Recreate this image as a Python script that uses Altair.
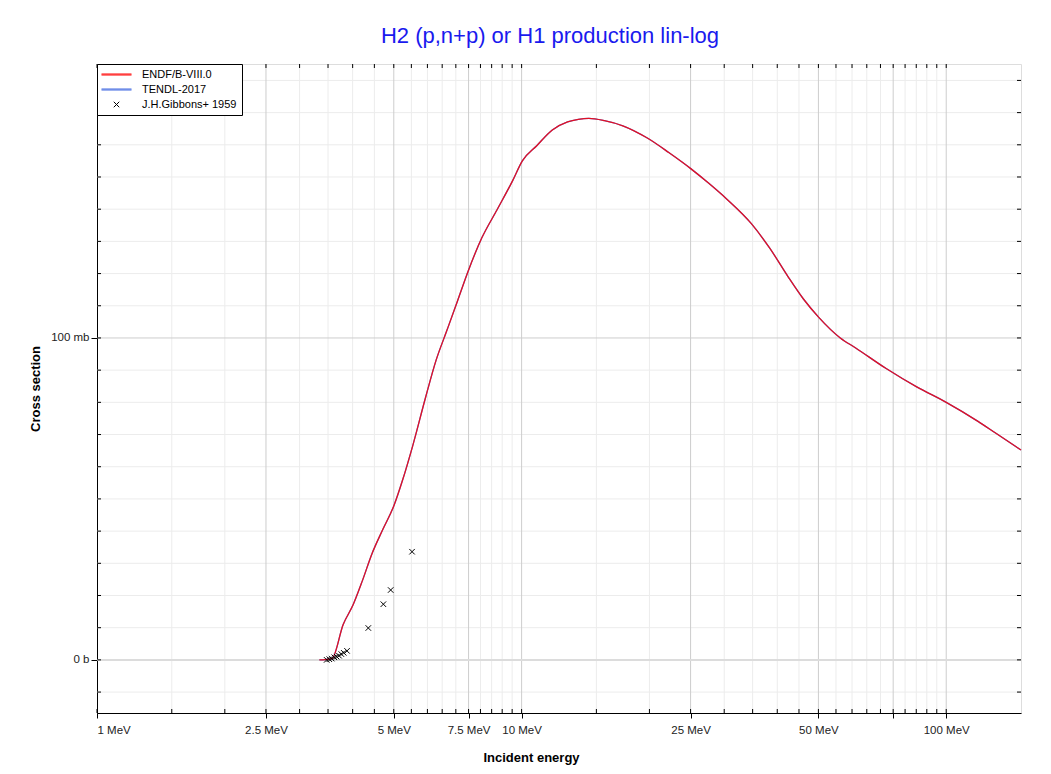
import altair as alt
import pandas as pd

TITLE = "H2 (p,n+p) or H1 production lin-log"
series_names = ["ENDF/B-VIII.0", "TENDL-2017", "J.H.Gibbons+ 1959"]
series_colors = ["#ff0000", "#4169e1", "#000000"]

# incident energy (MeV) and cross section (mb)
endf_energy = [3.34, 3.45, 3.58, 3.8, 4.01, 4.22, 4.44, 4.71, 5.01, 5.24, 5.54, 5.94,
               6.29, 6.65, 7.06, 7.49, 8.06, 8.76, 9.52, 10.04, 10.87, 11.81, 12.83,
               13.6, 14.4, 15.67, 17.31, 19.77, 22.21, 25.02, 27.55, 30.44, 34.76,
               38.4, 42.43, 46.1, 50.1, 56.3, 61.2, 72.2, 85.2, 100, 118.8, 131.2, 150]
endf_xs = [0, 0.1, 0.5, 11, 17.1, 24.7, 32.9, 40.5, 48.1, 55.7, 66.5, 81.5,
           93.1, 101.9, 111.4, 120.9, 131.1, 139.9, 148.8, 155.0, 159.8, 164.6, 167.1,
           167.9, 168.2, 167.5, 165.9, 162.1, 157.6, 152.6, 148.1, 143.1, 135.5,
           127.9, 119.0, 112.1, 106.4, 100.0, 96.9, 90.5, 84.8, 80.0, 74.1, 70.3, 65.2]
tendl_energy = list(endf_energy)
tendl_xs = list(endf_xs)

exp_energy = [3.475, 3.525, 3.571, 3.622, 3.668, 3.715, 3.762, 3.811, 3.88,
              4.355, 4.725, 4.916, 5.52]
exp_xs = [0.0, 0.2, 0.4, 0.8, 1.0, 1.3, 1.8, 2.2, 2.8, 9.9, 17.3, 21.7, 33.6]

x_major = [1, 2.5, 5, 7.5, 10, 25, 50, 75, 100]
x_minor = [1.5, 2, 3, 3.5, 4, 4.5, 5.5, 6, 6.5, 7, 8, 8.5, 9, 9.5,
           15, 20, 30, 35, 40, 45, 55, 60, 65, 70, 80, 85, 90, 95]
y_major = [0, 100]
y_minor = [-10, 10, 20, 30, 40, 50, 60, 70, 80, 90, 110, 120, 130, 140, 150, 160, 170, 180]

W, H = 924, 649
FONT = "Liberation Sans"

xs = alt.Scale(type="log", domain=[1, 150], nice=False)
ys = alt.Scale(domain=[-16.5, 185.1], nice=False, zero=False)

X_AXIS = alt.Axis(values=x_major, grid=False, tickSize=5, tickColor="black",
                  domainColor="black", labelFont=FONT, labelFontSize=11.5,
                  labelColor="#222", labelPadding=6,
                  labelExpr="datum.value == 75 ? '' : datum.value + ' MeV'",
                  titleFont=FONT, titleFontSize=13, titleFontWeight="bold",
                  titleColor="black", titleX=434, titleY=44, titleBaseline="middle")
Y_AXIS = alt.Axis(values=y_major, grid=False, tickSize=6, tickColor="black",
                  domainColor="black", labelFont=FONT, labelFontSize=11.5,
                  labelColor="#222", labelPadding=2,
                  labelExpr="datum.value == 0 ? '0 b' : datum.value + ' mb'",
                  titleFont=FONT, titleFontSize=13, titleFontWeight="bold",
                  titleColor="black", titleX=-62, titleY=H / 2, titleAngle=270,
                  titleAlign="center", titleBaseline="middle")

endf_df = pd.DataFrame({"e": endf_energy, "xs": endf_xs})
tendl_df = pd.DataFrame({"e": tendl_energy, "xs": tendl_xs})
exp_df = pd.DataFrame({"e": exp_energy, "xs": exp_xs, "series": series_names[2]})

xmin_df = pd.DataFrame({"e": x_minor})
xall_df = pd.DataFrame({"e": x_major + x_minor})
ymin_df = pd.DataFrame({"xs": y_minor})
yall_df = pd.DataFrame({"xs": y_major + y_minor})

def xfield():
    return alt.X("e:Q", scale=xs, title="Incident energy", axis=X_AXIS)

def yfield():
    return alt.Y("xs:Q", scale=ys, title="Cross section", axis=Y_AXIS)

vgrid_minor = alt.Chart(xmin_df).mark_rule(color="#ececec", strokeWidth=1).encode(x=xfield())
vgrid_major = alt.Chart(pd.DataFrame({"e": x_major[1:]})).mark_rule(color="#cdcdcd", strokeWidth=1).encode(x=xfield())
hgrid_minor = alt.Chart(ymin_df).mark_rule(color="#ececec", strokeWidth=1).encode(y=yfield())
hgrid_100 = alt.Chart(pd.DataFrame({"xs": [y_major[1]]})).mark_rule(color="#cdcdcd", strokeWidth=1).encode(y=yfield())
hgrid_0 = alt.Chart(pd.DataFrame({"xs": [y_major[0]]})).mark_rule(color="#dcdcdc", strokeWidth=2).encode(y=yfield())

tick_b = alt.Chart(xall_df).mark_rule(color="black").encode(x=xfield(), y=alt.value(H), y2=alt.value(H - 4))
tick_t = alt.Chart(xall_df).mark_rule(color="black").encode(x=xfield(), y=alt.value(0), y2=alt.value(4))
tick_l = alt.Chart(yall_df).mark_rule(color="black").encode(y=yfield(), x=alt.value(0), x2=alt.value(4))
tick_r = alt.Chart(yall_df).mark_rule(color="black").encode(y=yfield(), x=alt.value(W), x2=alt.value(W - 4))

tendl_line = alt.Chart(tendl_df).mark_line(color=series_colors[1], strokeWidth=1.3,
                                           interpolate="monotone").encode(x=xfield(), y=yfield())
endf_line = alt.Chart(endf_df).mark_line(color=series_colors[0], strokeWidth=1.3, opacity=0.85,
                                         interpolate="monotone").encode(x=xfield(), y=yfield())

# legend glyphs: a doubled stroke reads as a 2px line; a thin cross for the data
line_glyph = "M-3,-0.1L3,-0.1M-3,0.1L3,0.1"
shape_paths = [line_glyph, line_glyph, "M-0.55,-0.55L0.55,0.55M-0.55,0.55L0.55,-0.55"]
leg = alt.Legend(title=None, orient="top-left", offset=0, padding=5, strokeColor="black",
                 fillColor="white", labelFont=FONT, labelFontSize=11, labelColor="black",
                 symbolSize=100, symbolOffset=9, labelOffset=20, rowPadding=3,
                 symbolStrokeWidth=1, symbolOpacity=1, cornerRadius=0, labelLimit=300)

exp_points = alt.Chart(exp_df).mark_point(filled=False, size=100, strokeWidth=1, opacity=1).encode(
    x=xfield(), y=yfield(),
    color=alt.Color("series:N", scale=alt.Scale(domain=series_names, range=series_colors), legend=leg),
    shape=alt.Shape("series:N", scale=alt.Scale(domain=series_names, range=shape_paths), legend=leg),
)

chart = alt.layer(
    vgrid_minor, hgrid_minor, vgrid_major, hgrid_100, hgrid_0,
    tick_b, tick_t, tick_l, tick_r,
    tendl_line, endf_line, exp_points,
).properties(
    width=W, height=H,
    title=alt.TitleParams(TITLE, color="#1a1aee", fontSize=22, font=FONT,
                          fontWeight="normal", offset=16, dx=-9),
    autosize=alt.AutoSizeParams(type="none"),
    padding={"left": 89, "top": 56, "right": 22, "bottom": 53},
).configure_view(stroke="black", strokeWidth=1).configure(background="white")

chart.save("out.html", embed_options={"renderer": "svg", "actions": False})
